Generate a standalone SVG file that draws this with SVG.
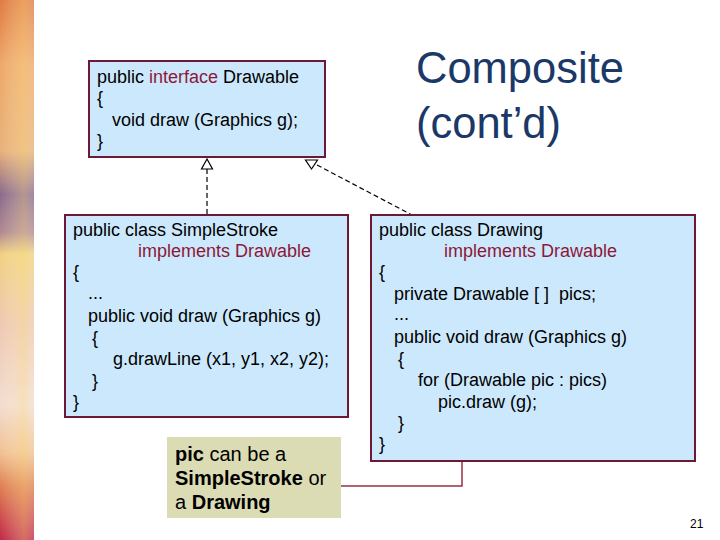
<svg xmlns="http://www.w3.org/2000/svg" width="720" height="540" viewBox="0 0 720 540">
<defs>
<linearGradient id="stripV" x1="0" y1="0" x2="0" y2="1">
<stop offset="0" stop-color="#e07a40"/>
<stop offset="0.12" stop-color="#eea868"/>
<stop offset="0.28" stop-color="#e8b078"/>
<stop offset="0.36" stop-color="#8a6a8a"/>
<stop offset="0.43" stop-color="#b08890"/>
<stop offset="0.47" stop-color="#f0d080"/>
<stop offset="0.6" stop-color="#eec8b0"/>
<stop offset="0.75" stop-color="#f2dcd0"/>
<stop offset="0.84" stop-color="#f0c090"/>
<stop offset="0.9" stop-color="#e08050"/>
<stop offset="1" stop-color="#c02848"/>
</linearGradient>
<linearGradient id="stripH" x1="0" y1="0" x2="1" y2="0">
<stop offset="0" stop-color="#ffffff" stop-opacity="0"/>
<stop offset="0.7" stop-color="#ffe890" stop-opacity="0.35"/>
<stop offset="1" stop-color="#ffffff" stop-opacity="0.2"/>
</linearGradient>
</defs>
<style>
.box{fill:#cce8fc;stroke:#6e1838;stroke-width:2}
.t{font-family:"Liberation Sans",Arial,sans-serif;font-size:18px;fill:#000}
.kw{fill:#8c1838}
.n{font-family:"Liberation Sans",Arial,sans-serif;font-size:20px;fill:#000}
.b{font-weight:bold}
.conn{fill:none;stroke:#000;stroke-width:1.2;stroke-dasharray:5,3}
.tri{fill:#fff;stroke:#000;stroke-width:1.2}
</style>
<rect x="0" y="0" width="720" height="540" fill="#fff"/>
<g id="strip">
<rect x="0" y="0" width="34" height="540" fill="url(#stripV)"/>
<rect x="0" y="0" width="34" height="540" fill="url(#stripH)"/>
</g>
<g id="title">
<text x="416" y="83" font-family="'Liberation Sans',Arial,sans-serif" font-size="43.5" fill="#1a3868">Composite</text>
<text x="416" y="138" font-family="'Liberation Sans',Arial,sans-serif" font-size="43.5" fill="#1a3868">(cont’d)</text>
</g>
<g id="connectors">
<line class="conn" x1="207" y1="169" x2="207" y2="215"/>
<polygon class="tri" points="207,159 201.5,169 212.5,169"/>
<line class="conn" x1="317" y1="165" x2="412" y2="215"/>
<polygon class="tri" points="305.5,160 317.5,160 311.5,169"/>
<polyline points="341,486 462,486 462,461" fill="none" stroke="#a03040" stroke-width="1.5"/>
</g>
<g id="drawable">
<rect class="box" x="89" y="61" width="236" height="96"/>
<text class="t" x="97" y="83">public <tspan class="kw">interface</tspan> Drawable</text>
<text class="t" x="97" y="104">{</text>
<text class="t" x="112" y="126">void draw (Graphics g);</text>
<text class="t" x="97" y="147">}</text>
</g>
<g id="simplestroke">
<rect class="box" x="65" y="215" width="283" height="202"/>
<text class="t" x="73" y="236">public class SimpleStroke</text>
<text class="t kw" x="138" y="257">implements Drawable</text>
<text class="t" x="73" y="278">{</text>
<text class="t" x="88" y="299">...</text>
<text class="t" x="88" y="322">public void draw (Graphics g)</text>
<text class="t" x="92" y="344">{</text>
<text class="t" x="113" y="365">g.drawLine (x1, y1, x2, y2);</text>
<text class="t" x="92" y="387">}</text>
<text class="t" x="73" y="408">}</text>
</g>
<g id="drawing">
<rect class="box" x="371" y="215" width="324" height="246"/>
<text class="t" x="379" y="236">public class Drawing</text>
<text class="t kw" x="444" y="257">implements Drawable</text>
<text class="t" x="379" y="278">{</text>
<text class="t" x="394" y="300" xml:space="preserve">private Drawable [ ]  pics;</text>
<text class="t" x="394" y="320">...</text>
<text class="t" x="394" y="343">public void draw (Graphics g)</text>
<text class="t" x="398" y="365">{</text>
<text class="t" x="418" y="386">for (Drawable pic : pics)</text>
<text class="t" x="438" y="408">pic.draw (g);</text>
<text class="t" x="398" y="429">}</text>
<text class="t" x="379" y="450">}</text>
</g>
<g id="note">
<rect x="167" y="437" width="174" height="81" fill="#dcdcb4"/>
<text class="n" x="175" y="461"><tspan class="b">pic</tspan> can be a</text>
<text class="n" x="175" y="485"><tspan class="b">SimpleStroke</tspan> or</text>
<text class="n" x="175" y="509">a <tspan class="b">Drawing</tspan></text>
</g>
<text x="690" y="528" font-family="'Liberation Sans',Arial,sans-serif" font-size="12" fill="#000">21</text>
</svg>
